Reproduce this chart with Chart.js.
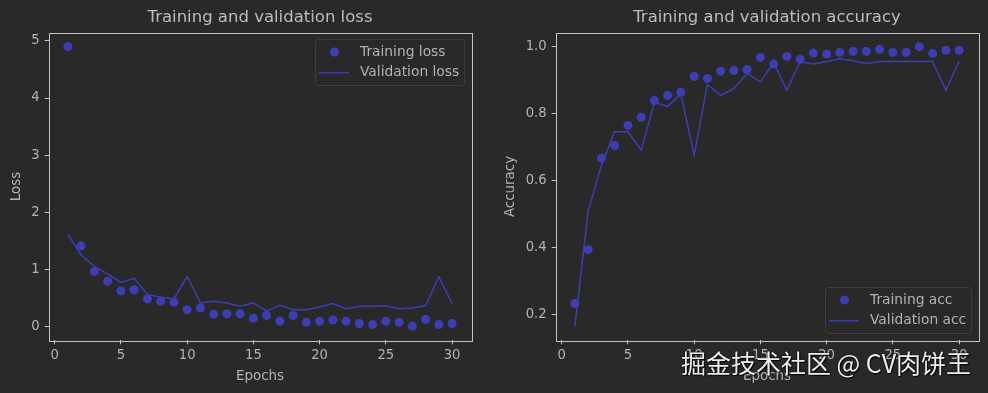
<!DOCTYPE html>
<html>
<head>
<meta charset="utf-8">
<title>Training and validation</title>
<script src="https://cdn.jsdelivr.net/npm/chart.js@4.4.1/dist/chart.umd.min.js"></script>
<style>
  html, body { margin: 0; padding: 0; background: #292929; }
  #wrap { position: relative; width: 988px; height: 393px; overflow: hidden; background: #292929; }
  canvas { position: absolute; top: 0; }
  #lossChart { left: 0; }
  #accChart { left: 494px; }
  #mark {
    position: absolute; left: 681px; top: 344px;
    font: 25px "Noto Sans CJK SC", sans-serif; color: #eeeeee;
    text-shadow: 0 0 2px #000, 1px 1px 1px #000; white-space: nowrap;
  }
</style>
</head>
<body>
<div id="wrap">
  <canvas id="lossChart" width="494" height="393"></canvas>
  <canvas id="accChart" width="494" height="393"></canvas>
  <div id="mark">掘金技术社区 @ CV肉饼王</div>
</div>
<script>
// datos
const epochs = [1, 2, 3, 4, 5, 6, 7, 8, 9, 10, 11, 12, 13, 14, 15, 16, 17, 18, 19, 20, 21, 22, 23, 24, 25, 26, 27, 28, 29, 30];
const trainLoss = [4.90, 1.41, 0.96, 0.79, 0.62, 0.64, 0.48, 0.44, 0.42, 0.29, 0.32, 0.21, 0.22, 0.22, 0.14,
                   0.19, 0.09, 0.19, 0.07, 0.09, 0.11, 0.09, 0.05, 0.03, 0.09, 0.07, 0.00, 0.12, 0.03, 0.05];
const valLoss = [1.61, 1.25, 1.05, 0.92, 0.77, 0.84, 0.56, 0.51, 0.48, 0.87, 0.41, 0.44, 0.41, 0.35, 0.41,
                 0.27, 0.37, 0.29, 0.29, 0.34, 0.40, 0.31, 0.35, 0.35, 0.36, 0.31, 0.32, 0.36, 0.87, 0.40];
const trainAcc = [0.233, 0.394, 0.667, 0.705, 0.765, 0.789, 0.839, 0.854, 0.864, 0.911, 0.905, 0.927, 0.929, 0.932, 0.968,
                  0.948, 0.971, 0.962, 0.981, 0.978, 0.983, 0.986, 0.986, 0.992, 0.983, 0.983, 1.000, 0.980, 0.989, 0.989];
const valAcc = [0.165, 0.510, 0.645, 0.746, 0.746, 0.691, 0.833, 0.822, 0.858, 0.676, 0.887, 0.855, 0.875, 0.920, 0.895,
                0.952, 0.870, 0.955, 0.948, 0.956, 0.964, 0.958, 0.950, 0.956, 0.956, 0.956, 0.956, 0.956, 0.870, 0.957];

const epochTicks = [0, 5, 10, 15, 20, 25, 30];
const lossTicks = [0, 1, 2, 3, 4, 5];
const accTicks = [0.2, 0.4, 0.6, 0.8, 1.0];

// colores
const bg = '#292929';
const frameColor = '#c4c4c4';
const textColor = '#b3b3b3';
const blue = '#3d3db6';
const font = '"DejaVu Sans"';

// margen de 5% como matplotlib
function limits(values) {
    const lo = Math.min(...values), hi = Math.max(...values);
    const m = (hi - lo) * 0.05;
    return [lo - m, hi + m];
}

function toPoints(ys) {
    return epochs.map((e, i) => ({ x: e, y: ys[i] }));
}

// marco alrededor del área del gráfico
const frame = {
    id: 'frame',
    afterDraw(chart) {
        const { ctx, chartArea: a } = chart;
        ctx.save();
        ctx.strokeStyle = frameColor;
        ctx.lineWidth = 1;
        ctx.strokeRect(Math.round(a.left) + 0.5, Math.round(a.top) + 0.5,
                       Math.round(a.right - a.left), Math.round(a.bottom - a.top));
        ctx.restore();
    }
};

// leyenda con caja, estilo matplotlib
const boxLegend = {
    id: 'boxLegend',
    afterDraw(chart, args, opts) {
        const { ctx, chartArea: a } = chart;
        const sets = chart.data.datasets;
        ctx.save();
        ctx.font = '13.8px ' + font;
        const textW = Math.max(...sets.map(d => ctx.measureText(d.label).width));
        const w = 45 + textW + 5, h = 46;
        const x = Math.round(a.right - 7 - w);
        const y = Math.round(opts.corner === 'top' ? a.top + 6.5 : a.bottom - 7.5 - h);
        ctx.fillStyle = 'rgba(41,41,41,0.8)';
        ctx.strokeStyle = '#3e3e3e';
        ctx.lineWidth = 1;
        ctx.beginPath();
        ctx.roundRect(x + 0.5, y + 0.5, w, h, 3);
        ctx.fill();
        ctx.stroke();
        sets.forEach((d, i) => {
            const cy = y + 13 + i * 20.7;
            if (d.showLine === false) {
                ctx.fillStyle = d.pointBackgroundColor;
                ctx.beginPath();
                ctx.arc(x + 19.5, cy, d.pointRadius, 0, Math.PI * 2);
                ctx.fill();
            } else {
                ctx.strokeStyle = d.borderColor;
                ctx.lineWidth = d.borderWidth;
                ctx.beginPath();
                ctx.moveTo(x + 4, cy);
                ctx.lineTo(x + 34, cy);
                ctx.stroke();
            }
            ctx.fillStyle = textColor;
            ctx.textBaseline = 'middle';
            ctx.fillText(d.label, x + 45, cy);
        });
        ctx.restore();
    }
};

function makeChart(canvasId, cfg) {
    const [ymin, ymax] = limits(cfg.train.concat(cfg.val));
    const [xmin, xmax] = limits(epochs);
    return new Chart(document.getElementById(canvasId), {
        type: 'line',
        data: {
            datasets: [
                {
                    label: cfg.trainLabel,
                    data: toPoints(cfg.train),
                    showLine: false,
                    pointRadius: 4.5,
                    pointBackgroundColor: blue,
                    pointBorderWidth: 0,
                    order: 1
                },
                {
                    label: cfg.valLabel,
                    data: toPoints(cfg.val),
                    borderColor: blue,
                    borderWidth: 1.5,
                    pointRadius: 0,
                    tension: 0,
                    order: 0
                }
            ]
        },
        options: {
            responsive: false,
            animation: false,
            events: [],
            layout: { padding: { left: 0, right: cfg.rightPad, top: 0, bottom: 0 } },
            plugins: {
                legend: { display: false },
                tooltip: { enabled: false },
                title: {
                    display: true,
                    text: cfg.title,
                    fullSize: false,
                    color: '#bdbdbd',
                    font: { family: font, size: 16.5, weight: 'normal' },
                    padding: { top: 7.5, bottom: 5.4 }
                },
                boxLegend: { corner: cfg.corner }
            },
            scales: {
                x: {
                    type: 'linear',
                    min: xmin,
                    max: xmax,
                    afterBuildTicks: s => { s.ticks = epochTicks.map(v => ({ value: v })); },
                    afterFit: s => { s.height = 52.7; },
                    border: { display: false },
                    grid: { drawOnChartArea: false, drawTicks: true, tickLength: 4, color: frameColor },
                    ticks: { color: textColor, font: { family: font, size: 13.2 }, padding: 3, maxRotation: 0 },
                    title: {
                        display: true, text: 'Epochs', color: textColor,
                        font: { family: font, size: 13.4 }, padding: { top: 4, bottom: 8 }
                    }
                },
                y: {
                    type: 'linear',
                    min: ymin,
                    max: ymax,
                    afterBuildTicks: s => { s.ticks = cfg.yTicks.map(v => ({ value: v })); },
                    afterFit: s => { s.width = cfg.yWidth; },
                    border: { display: false },
                    grid: { drawOnChartArea: false, drawTicks: true, tickLength: 4, color: frameColor },
                    ticks: {
                        color: textColor, font: { family: font, size: 13.2 }, padding: 5,
                        callback: cfg.yFormat
                    },
                    title: {
                        display: true, text: cfg.yLabel, color: textColor,
                        font: { family: font, size: 13.4 }, padding: { top: 8, bottom: 4 }
                    }
                }
            }
        },
        plugins: [frame, boxLegend]
    });
}

makeChart('lossChart', {
    title: 'Training and validation loss',
    trainLabel: 'Training loss', valLabel: 'Validation loss',
    train: trainLoss, val: valLoss,
    yTicks: lossTicks, yLabel: 'Loss',
    yFormat: v => String(v),
    yWidth: 48.7, rightPad: 22.7, corner: 'top'
});

makeChart('accChart', {
    title: 'Training and validation accuracy',
    trainLabel: 'Training acc', valLabel: 'Validation acc',
    train: trainAcc, val: valAcc,
    yTicks: accTicks, yLabel: 'Accuracy',
    yFormat: v => v.toFixed(1),
    yWidth: 61.7, rightPad: 9.7, corner: 'bottom'
});
</script>
</body>
</html>
